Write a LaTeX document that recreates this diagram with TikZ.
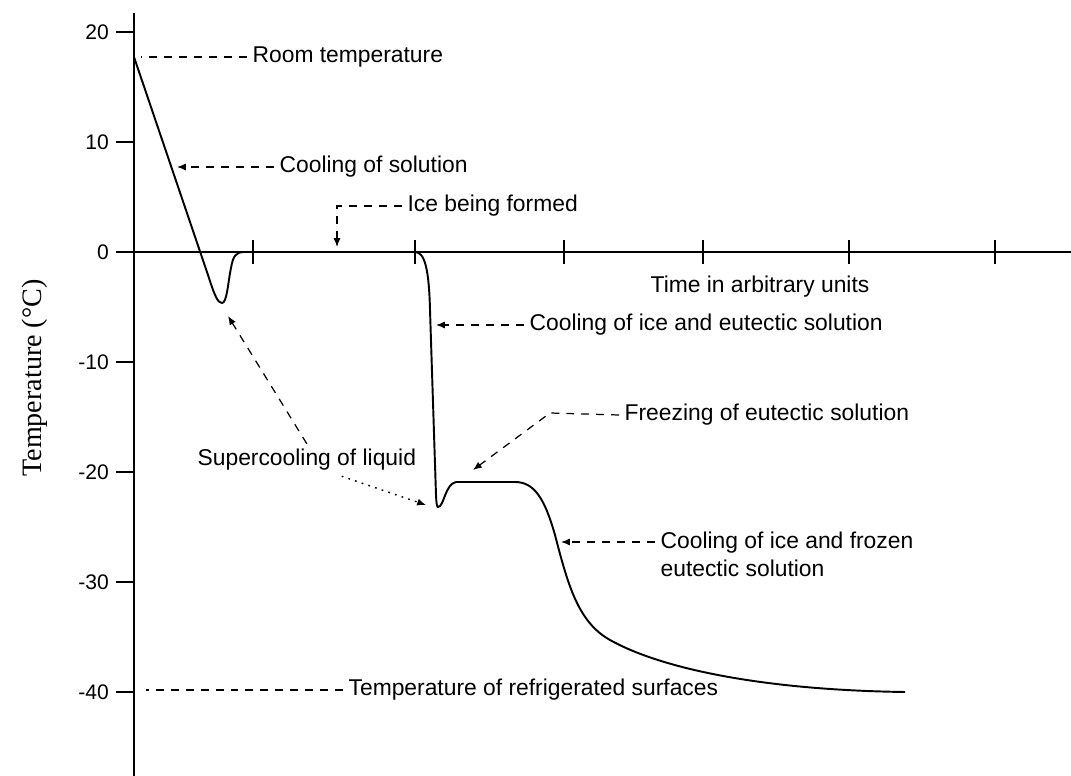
\documentclass[tikz,border=0pt]{standalone}
\usepackage{fontspec}
\setmainfont{Liberation Sans}
\newfontfamily\serifface{Liberation Serif}
\usetikzlibrary{arrows.meta,calc}
\tikzset{
  notelabel/.style={font=\fontsize{13}{16}\selectfont, inner sep=3pt, anchor=west},
  ticklabel/.style={font=\fontsize{12}{14}\selectfont, inner sep=1pt, anchor=east},
  axislabel/.style={font=\serifface\fontsize{16}{19}\selectfont, rotate=90},
  axisline/.style={line width=1.1pt},
  curveline/.style={line width=1.1pt, line join=round},
  leader/.style={line width=0.7pt, dash pattern=on 4.5pt off 4pt},
  leaderarrow/.style={leader, -{Latex[length=5pt,width=4pt]}},
  dotleader/.style={line width=0.8pt, dash pattern=on 1pt off 3pt, -{Latex[length=5pt,width=4pt]}}
}

\begin{document}
\begin{tikzpicture}[x=0.02cm, y=-0.02cm]
\useasboundingbox (0,0) rectangle (1071,776);
% axes
\draw[axisline] (134,13) -- (134,776);
\draw[axisline] (118,252) -- (1071,252);
\foreach \t in {20,10,0,-10,-20,-30,-40} {
  \draw[axisline] (116,{252-11*(\t)}) -- (134,{252-11*(\t)});
  \node[ticklabel] at (111,{252-11*(\t)}) {\t};
}
\foreach \x in {253,415,564,703,849,995}
  \draw[axisline] (\x,240) -- (\x,264);
\node[axislabel] (templabel) at (35,378) {Temperature (°C)};
\node[notelabel, anchor=center] (timeunits) at (760,287) {Time in arbitrary units};

% cooling curve
\coordinate (start) at (134,57);
\coordinate (dip1) at (222,303);
\coordinate (dip2) at (438,507);
\draw[curveline] (start) -- (208,275) .. controls (215,297) and (218,303) .. (dip1)
  .. controls (227,303) and (228,282) .. (231,268) .. controls (233,256) and (236,252) .. (244,252);
\draw[curveline] (415,252) .. controls (425,252) and (429,270) .. (430,310) -- (436,495)
  .. controls (436.5,505) and (437,507) .. (dip2) .. controls (444,507) and (445,484) .. (456,482)
  -- (515,482) .. controls (535,482) and (545,500) .. (555,535)
  .. controls (568,585) and (578,622) .. (610,640) .. controls (660,668) and (760,690) .. (905,692);

% labels
\node[notelabel] (roomtemp) at (247,57) {Room temperature};
\node[notelabel] (coolsol) at (274,167) {Cooling of solution};
\node[notelabel] (iceform) at (402,206) {Ice being formed};
\node[notelabel] (coolice) at (524,325) {Cooling of ice and eutectic solution};
\node[notelabel] (freezeeut) at (619,415) {Freezing of eutectic solution};
\node[notelabel] (supercool) at (192,460) {Supercooling of liquid};
\node[notelabel, anchor=north west, align=left] (coolfrozen) at (655,526) {Cooling of ice and frozen\\eutectic solution};
\node[notelabel] (refsurf) at (343,690) {Temperature of refrigerated surfaces};

% leaders
\draw[leader] (roomtemp.west) -- (141,57);
\draw[leaderarrow] (coolsol.west) -- (177,167);
\draw[leaderarrow] (iceform.west) -- (337,206) -- (337,247);
\draw[leaderarrow] (coolice.west) -- (436,325);
\draw[leaderarrow] (freezeeut.west) -- (550,413) -- (473,470);
\draw[leaderarrow] (supercool.north) -- ($(dip1)+(6,13)$);
\draw[dotleader] (supercool.-25) -- ($(dip2)+(-12,-2)$);
\draw[leaderarrow] ($(coolfrozen.north west)+(0,16)$) -- (561,542);
\draw[leader] (refsurf.west) -- (146,690);
\end{tikzpicture}
\end{document}
